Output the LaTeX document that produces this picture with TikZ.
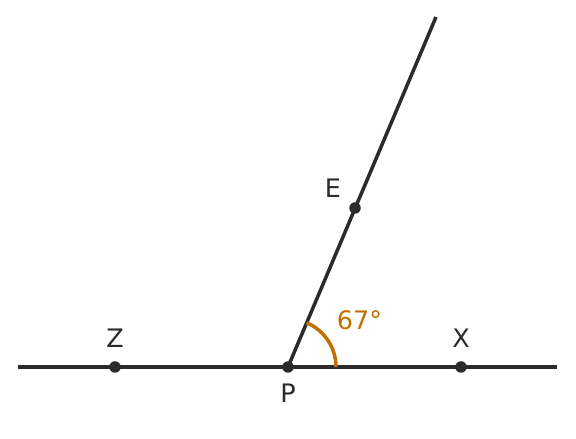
\documentclass[tikz,border=0pt]{standalone}
\usepackage{fontspec}
\setmainfont{DejaVu Sans}
\usepackage{tkz-euclide}
\definecolor{inkgray}{RGB}{43,43,43}
\definecolor{anglecol}{RGB}{193,112,0}
\tikzset{
    linestyle/.style = {draw = inkgray, line width = 2pt},
    dotstyle/.style = {fill = inkgray},
    lbl/.style = {text = inkgray, font = \fontsize{14.5}{16}\selectfont}
}
\begin{document}
\begin{tikzpicture}
    \useasboundingbox (-5.76,-1.44) rectangle (5.76,7.34);
    \tkzDefPoints{0/0/P, -3.46/0/Z, 3.46/0/X, 1.34/3.18/E, -5.4/0/L, 5.38/0/R, 2.96/7.0/T}
    \draw[linestyle] (L) -- (R);
    \draw[linestyle] (P) -- (T);
    \draw[anglecol, line width = 2pt] ([shift={(0:0.96)}]P) arc (0:67.15:0.96);
    \foreach \pt in {Z,P,X,E} {\fill[dotstyle] (\pt) circle (0.115);}
    \node[lbl] (labZ) at (-3.46,0.58) {Z};
    \node[lbl] (labX) at (3.46,0.58) {X};
    \node[lbl] (labP) at (0,-0.52) {P};
    \node[lbl] (labE) at (0.9,3.58) {E};
    \node[lbl, text = anglecol] (labA) at (1.43,0.94) {67°};
\end{tikzpicture}
\end{document}
